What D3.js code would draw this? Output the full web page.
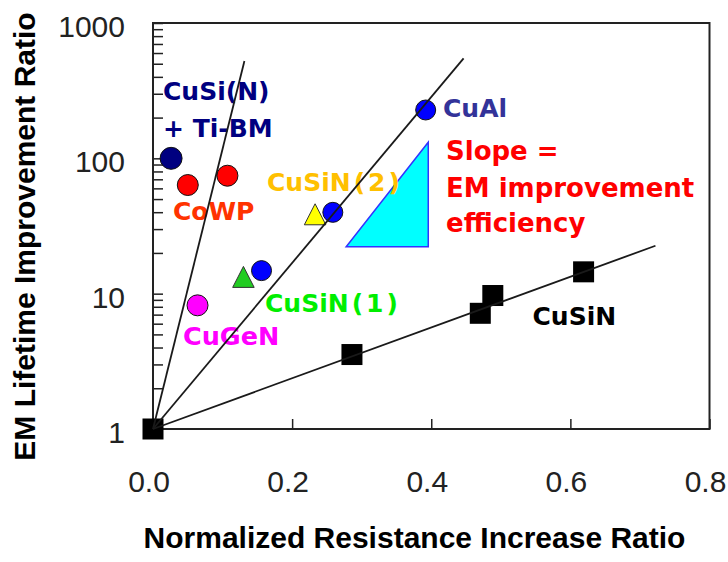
<!DOCTYPE html>
<html>
<head>
<meta charset="utf-8">
<script src="https://cdn.jsdelivr.net/npm/d3@7"></script>
<style>
  html, body { margin: 0; padding: 0; background: #fff; }
  svg { display: block; }
</style>
</head>
<body>
<svg id="chart" width="728" height="562"></svg>
<script>
// Axis ticks
const xTicks = [0, 0.2, 0.4, 0.6, 0.8];
const xTickLabels = ["0.0", "0.2", "0.4", "0.6", "0.8"];
const yTicks = [1, 10, 100, 1000];
const yTickLabels = ["1", "10", "100", "1000"];

// Measured points: [normalized resistance increase, EM lifetime improvement]
const cuSiN      = [[0, 1], [0.286, 3.55], [0.4705, 7.16], [0.4885, 9.69], [0.619, 14.5]];
const cuSiNTiBM  = [[0.026, 100]];
const coWP       = [[0.050, 63.5], [0.107, 74.4]];
const cuGeN      = [[0.064, 8.2]];
const cuSiN1Tri  = [[0.130, 13.3]];
const cuSiN1Dot  = [[0.156, 14.8]];
const cuSiN2Tri  = [[0.233, 38.6]];
const cuSiN2Dot  = [[0.2585, 39.9]];
const cuAl       = [[0.392, 227.6]];

// Guide lines through the origin (log-linear fits)
const steepFit   = [[0, 1], [0.1314, 524]];
const middleFit  = [[0, 1], [0.4465, 548]];
const shallowFit = [[0, 1], [0.7223, 22.6]];

// Slope indicator triangle
const slopeTriangle = [[0.2777, 22.2], [0.3957, 22.2], [0.3957, 131.4]];

const svg = d3.select("#chart");
const x = d3.scaleLinear().domain([0, 0.8]).range([153, 709.5]);
const y = d3.scaleLog().domain([1, 1000]).range([429, 23]);

const axisFont = "'Liberation Sans', Arial, sans-serif";
const labelFont = "'DejaVu Sans', Verdana, sans-serif";

// Y axis: inward major + minor ticks
const minorY = [];
[1, 10, 100].forEach(d => { for (let m = 2; m <= 9; m++) minorY.push(d * m); });

svg.append("g")
  .attr("transform", `translate(${x(0)},0)`)
  .call(d3.axisLeft(y).tickValues(minorY).tickSize(-10).tickFormat(""))
  .call(g => g.select(".domain").remove())
  .call(g => g.selectAll("line").attr("stroke", "#222").attr("stroke-width", 1.5));

const yAxisG = svg.append("g")
  .attr("transform", `translate(${x(0)},0)`)
  .call(d3.axisLeft(y).tickValues(yTicks).tickSize(-10).tickPadding(28)
    .tickFormat((d, i) => yTickLabels[i]))
  .call(g => g.select(".domain").remove());
yAxisG.selectAll("line").attr("stroke", "#222").attr("stroke-width", 1.5);
yAxisG.selectAll("text")
  .attr("font-family", axisFont).attr("font-size", 30).attr("fill", "#222")
  .attr("dy", 13.5);

// X axis: inward ticks
const xAxisG = svg.append("g")
  .attr("transform", `translate(0,${y(1)})`)
  .call(d3.axisBottom(x).tickValues(xTicks).tickSize(-10).tickPadding(41.5)
    .tickFormat((d, i) => xTickLabels[i]))
  .call(g => g.select(".domain").remove());
xAxisG.selectAll("line").attr("stroke", "#222").attr("stroke-width", 1.5);
xAxisG.selectAll("text")
  .attr("font-family", axisFont).attr("font-size", 30).attr("fill", "#222")
  .attr("dx", -4.5);

// Plot frame
svg.append("rect")
  .attr("x", x(0)).attr("y", y(1000))
  .attr("width", x(0.8) - x(0)).attr("height", y(1) - y(1000))
  .attr("fill", "none").attr("stroke", "#222").attr("stroke-width", 2);

// Axis titles
svg.append("text")
  .attr("x", 414.5).attr("y", 548)
  .attr("text-anchor", "middle")
  .attr("font-family", axisFont).attr("font-weight", "bold").attr("font-size", 30)
  .attr("fill", "#000")
  .text("Normalized Resistance Increase Ratio");

svg.append("text")
  .attr("transform", "translate(35,236.5) rotate(-90)")
  .attr("text-anchor", "middle")
  .attr("font-family", axisFont).attr("font-weight", "bold").attr("font-size", 30)
  .attr("fill", "#000")
  .text("EM Lifetime Improvement Ratio");

// Slope indicator
svg.append("path")
  .datum(slopeTriangle)
  .attr("d", d3.line().x(d => x(d[0])).y(d => y(d[1])).curve(d3.curveLinearClosed))
  .attr("fill", "#00FFFF").attr("stroke", "#3333FF").attr("stroke-width", 1.5);

// Text annotations
const annotations = [
  { text: "CuSi(N)", x: 163, y: 100, color: "#000080", size: 25 },
  { text: "+ Ti-BM", x: 163, y: 137, color: "#000080", size: 25 },
  { text: "CoWP", x: 173, y: 220, color: "#FF3300", size: 25 },
  { text: "CuAl", x: 443, y: 116.5, color: "#333399", size: 25 },
  { text: "Slope =", x: 446, y: 159.5, color: "#FF0000", size: 26 },
  { text: "EM improvement", x: 446, y: 196.5, color: "#FF0000", size: 26 },
  { text: "efficiency", x: 446, y: 231.5, color: "#FF0000", size: 26 },
  { text: "CuGeN", x: 183, y: 345, color: "#FF00FF", size: 25.5 },
  { text: "CuSiN", x: 532.5, y: 324.5, color: "#000000", size: 25 }
];
svg.append("g").selectAll("text")
  .data(annotations)
  .join("text")
  .attr("x", d => d.x).attr("y", d => d.y)
  .attr("font-family", labelFont).attr("font-weight", "bold")
  .attr("font-size", d => d.size).attr("fill", d => d.color)
  .text(d => d.text);

// Labels with widely spaced parenthesised index
[{ base: "CuSiN", idx: "(2)", x: 267, y: 191, color: "#FFC000" },
 { base: "CuSiN", idx: "(1)", x: 265, y: 311.5, color: "#00EE00" }].forEach(l => {
  const t = svg.append("text")
    .attr("x", l.x).attr("y", l.y)
    .attr("font-family", labelFont).attr("font-weight", "bold")
    .attr("font-size", 25).attr("fill", l.color);
  t.append("tspan").text(l.base);
  t.append("tspan").attr("dx", 3).attr("letter-spacing", 3).text(l.idx);
});

// Markers
const px = d => x(d[0]), py = d => y(d[1]);
const marks = svg.append("g");

function circles(data, fill, r) {
  marks.append("g").selectAll("circle").data(data).join("circle")
    .attr("cx", px).attr("cy", py).attr("r", r)
    .attr("fill", fill).attr("stroke", "#111").attr("stroke-width", 1);
}
function triangles(data, fill) {
  const w = 21.5, h = 21;
  marks.append("g").selectAll("path").data(data).join("path")
    .attr("d", d => {
      const cx = px(d), cy = py(d);
      return `M${cx},${cy - h / 2}L${cx + w / 2},${cy + h / 2}L${cx - w / 2},${cy + h / 2}Z`;
    })
    .attr("fill", fill).attr("stroke", "#333").attr("stroke-width", 1);
}

circles(cuSiNTiBM, "#000080", 11);
circles(coWP, "#FF0000", 10.5);
circles(cuGeN, "#FF00FF", 10.5);
triangles(cuSiN1Tri, "#22CC22");
circles(cuSiN1Dot, "#0000FF", 10);
triangles(cuSiN2Tri, "#FFFF00");
circles(cuSiN2Dot, "#0000FF", 10);
circles(cuAl, "#0000FF", 10);

marks.append("g").selectAll("rect").data(cuSiN).join("rect")
  .attr("x", d => px(d) - 10.5).attr("y", d => py(d) - 10.5)
  .attr("width", 21).attr("height", 21)
  .attr("fill", "#000");

// Guide lines drawn on top
const line = d3.line().x(px).y(py);
svg.append("g").selectAll("path")
  .data([steepFit, middleFit, shallowFit])
  .join("path")
  .attr("d", line)
  .attr("fill", "none").attr("stroke", "#1a1a1a").attr("stroke-width", 1.8);
</script>
</body>
</html>
